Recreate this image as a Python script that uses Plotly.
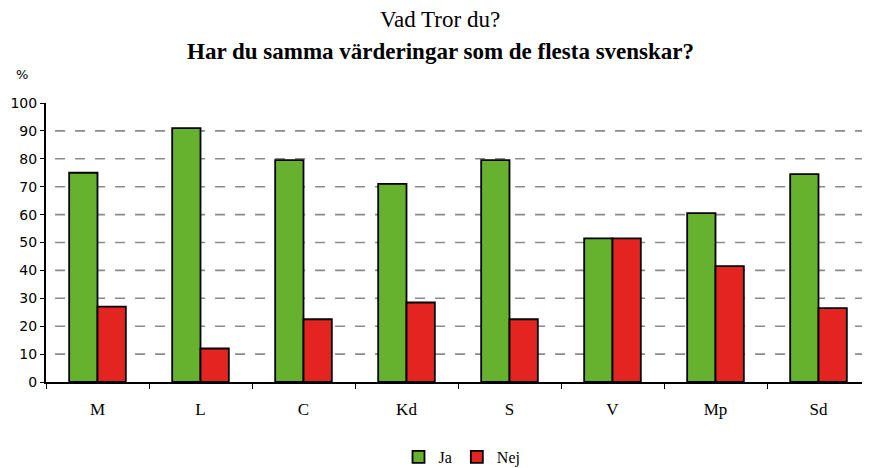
import plotly.graph_objects as go

categories = ["M", "L", "C", "Kd", "S", "V", "Mp", "Sd"]
ja_values = [75, 91, 79.5, 71, 79.5, 51.5, 60.5, 74.5]
nej_values = [27, 12, 22.5, 28.5, 22.5, 51.5, 41.5, 26.5]
y_ticks = [0, 10, 20, 30, 40, 50, 60, 70, 80, 90, 100]
grid_values = [10, 20, 30, 40, 50, 60, 70, 80, 90]

GREEN = "#66B22E"
RED = "#E32421"
SERIF = "Liberation Serif, DejaVu Serif, serif"
SANS = "DejaVu Sans, Verdana, sans-serif"

OFF = 8  # default page body margin
W, H = 870 - OFF, 468 - OFF
ML, MR, MT, MB = 46 - OFF, 0, 103 - OFF, 468 - 382
pw = W - ML - MR
ph = H - MT - MB

fig = go.Figure()
fig.add_trace(go.Bar(name="Ja", x=categories, y=ja_values, marker=dict(color=GREEN, line=dict(color="black", width=1.8))))
fig.add_trace(go.Bar(name="Nej", x=categories, y=nej_values, marker=dict(color=RED, line=dict(color="black", width=1.8))))

for g in grid_values:
    fig.add_shape(type="line", xref="paper", yref="y", x0=0.011, x1=1, y0=g, y1=g,
                  line=dict(color="#8a8a8a", width=1.6, dash="10px,10px"), layer="below")


def px2paper(px, py):
    # px, py are screenshot pixel positions
    return (px - OFF - ML) / pw, 1 + (MT - (py - OFF)) / ph


annots = []
for text, (px, py), font in [
    ("Vad Tror du?", (440, 20), dict(family=SERIF, size=23, color="black")),
    ("<b>Har du samma värderingar som de flesta svenskar?</b>", (440, 52), dict(family=SERIF, size=23, color="black")),
    ("%", (22, 75), dict(family=SANS, size=13, color="black")),
]:
    x, y = px2paper(px, py)
    annots.append(dict(text=text, x=x, y=y, xref="paper", yref="paper", xanchor="center",
                       yanchor="middle", showarrow=False, font=font))

lx, ly = px2paper(462, 457)

fig.update_layout(
    width=W, height=H,
    margin=dict(l=ML, r=MR, t=MT, b=MB, autoexpand=False),
    plot_bgcolor="white", paper_bgcolor="white",
    barmode="group", bargap=0.45, bargroupgap=0,
    showlegend=True,
    legend=dict(orientation="h", x=lx, xanchor="center", y=ly, yanchor="middle",
                font=dict(family=SERIF, size=16, color="black"), itemwidth=30,
                traceorder="normal", tracegroupgap=0),
    annotations=annots,
)

fig.update_xaxes(
    showline=True, linecolor="black", linewidth=2,
    ticks="outside", ticklen=5, tickcolor="black", tickson="boundaries",
    tickfont=dict(family=SERIF, size=17, color="black"),
    ticklabelstandoff=11,
    range=[-0.5, 7.5], showgrid=False,
)
fig.update_yaxes(
    range=[0, 100], tickvals=y_ticks, showgrid=False, zeroline=False,
    showline=True, linecolor="black", linewidth=2,
    ticks="outside", ticklen=4, tickcolor="black",
    tickfont=dict(family=SANS, size=14, color="black"),
)

fig.write_html("out.html")
